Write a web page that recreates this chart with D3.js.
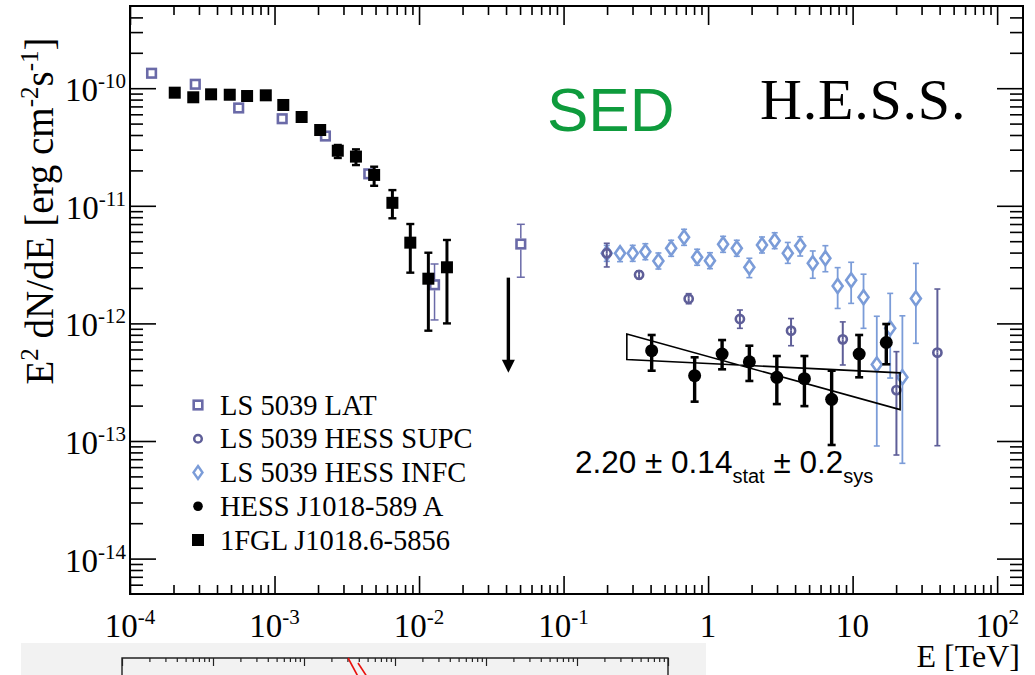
<!DOCTYPE html>
<html><head><meta charset="utf-8">
<script src="https://cdn.jsdelivr.net/npm/d3@7"></script>
<style>
html,body{margin:0;padding:0;background:#fff;}
svg{display:block;}
</style></head><body>
<svg id="chart" width="1035" height="675"></svg>
<script>
// ---- 1FGL J1018.6-5856 (Fermi) ----
const fglE  = [2.04e-4, 2.74e-4, 3.64e-4, 4.9e-4, 6.46e-4, 8.7e-4, 1.15e-3, 1.54e-3, 2.07e-3, 2.74e-3, 3.66e-3, 4.89e-3, 6.54e-3, 8.7e-3, 1.16e-2, 1.56e-2];
const fglF  = [9.16e-11, 8.37e-11, 8.87e-11, 8.80e-11, 8.58e-11, 8.70e-11, 7.20e-11, 5.69e-11, 4.41e-11, 2.94e-11, 2.62e-11, 1.83e-11, 1.06e-11, 4.86e-12, 2.40e-12, 3.00e-12];
const fglLo = [9.16e-11, 8.37e-11, 8.87e-11, 8.80e-11, 8.58e-11, 8.70e-11, 7.20e-11, 5.69e-11, 4.41e-11, 2.55e-11, 2.22e-11, 1.48e-11, 7.83e-12, 2.70e-12, 8.67e-13, 1.00e-12];
const fglHi = [9.16e-11, 8.37e-11, 8.87e-11, 8.80e-11, 8.58e-11, 8.70e-11, 7.20e-11, 5.69e-11, 4.41e-11, 3.29e-11, 3.02e-11, 2.15e-11, 1.36e-11, 7.00e-12, 3.99e-12, 5.12e-12];
// upper limit
const ulE = [4.15e-2];
const ulF = [2.45e-12];

// ---- LS 5039 LAT ----
const latE  = [1.41e-4, 2.83e-4, 5.65e-4, 1.13e-3, 2.25e-3, 4.49e-3, 1.28e-2, 5.06e-2];
const latF  = [1.34e-10, 1.08e-10, 6.79e-11, 5.50e-11, 3.92e-11, 1.87e-11, 2.13e-12, 4.73e-12];
const latLo = [1.34e-10, 1.08e-10, 6.79e-11, 5.50e-11, 3.92e-11, 1.87e-11, 1.07e-12, 2.47e-12];
const latHi = [1.34e-10, 1.08e-10, 6.79e-11, 5.50e-11, 3.92e-11, 1.87e-11, 3.20e-12, 6.96e-12];

// ---- LS 5039 HESS SUPC ----
const supE  = [0.199, 0.333, 0.734, 1.66, 3.75, 8.55, 20.1, 38.6];
const supF  = [3.95e-12, 2.59e-12, 1.62e-12, 1.09e-12, 8.67e-13, 7.32e-13, 2.71e-13, 5.64e-13];
const supLo = [3.02e-12, 2.40e-12, 1.47e-12, 9.08e-13, 6.46e-13, 4.43e-13, 7.60e-14, 9.12e-14];
const supHi = [4.80e-12, 2.80e-12, 1.79e-12, 1.30e-12, 1.10e-12, 1.03e-12, 5.75e-13, 1.96e-12];

// ---- LS 5039 HESS INFC ----
const infE  = [0.199, 0.246, 0.301, 0.368, 0.453, 0.555, 0.682, 0.84, 1.03, 1.27, 1.58, 1.93, 2.36, 2.89, 3.56, 4.34, 5.3, 6.48, 7.88, 9.77, 11.9, 14.7, 18.2, 22.1, 27.4];
const infF  = [3.95e-12, 3.95e-12, 3.95e-12, 4.07e-12, 3.39e-12, 4.35e-12, 5.40e-12, 3.65e-12, 3.41e-12, 4.70e-12, 4.35e-12, 3.00e-12, 4.64e-12, 5.05e-12, 3.95e-12, 4.58e-12, 3.24e-12, 3.58e-12, 2.08e-12, 2.33e-12, 1.67e-12, 4.47e-13, 9.08e-13, 3.48e-13, 1.63e-12];
const infLo = [3.37e-12, 3.35e-12, 3.37e-12, 3.48e-12, 2.90e-12, 3.72e-12, 4.61e-12, 3.12e-12, 2.92e-12, 4.02e-12, 3.72e-12, 2.45e-12, 3.97e-12, 4.32e-12, 3.24e-12, 3.74e-12, 2.42e-12, 2.75e-12, 1.34e-12, 1.48e-12, 9.08e-13, 9.07e-14, 3.43e-13, 6.46e-14, 6.77e-13];
const infHi = [4.61e-12, 4.35e-12, 4.61e-12, 4.76e-12, 3.97e-12, 5.09e-12, 6.31e-12, 4.27e-12, 3.99e-12, 5.50e-12, 5.09e-12, 3.58e-12, 5.43e-12, 5.90e-12, 4.88e-12, 5.46e-12, 4.13e-12, 4.58e-12, 2.98e-12, 3.31e-12, 2.62e-12, 1.15e-12, 1.80e-12, 1.16e-12, 3.24e-12];

// ---- HESS J1018-589 A ----
const hessE  = [0.407, 0.807, 1.25, 1.93, 2.99, 4.64, 7.16, 11.1, 17.1];
const hessF  = [5.86e-13, 3.59e-13, 5.49e-13, 4.72e-13, 3.48e-13, 3.39e-13, 2.26e-13, 5.49e-13, 6.88e-13];
const hessLo = [3.96e-13, 2.16e-13, 4.07e-13, 3.24e-13, 2.06e-13, 1.98e-13, 9.25e-14, 3.48e-13, 4.49e-13];
const hessHi = [7.97e-13, 5.15e-13, 7.22e-13, 6.46e-13, 5.28e-13, 5.28e-13, 3.96e-13, 7.97e-13, 9.88e-13];

// power-law fit: photon index, its statistical error, pivot and flux at pivot, energy range
const fitIndex = [2.20];
const fitIndexErr = [0.14];
const fitSysErr = [0.2];
const fitPivot = [1.63];
const fitPivotFlux = [4.43e-13];
const fitRange = [0.274, 21.3];

// axis ticks
const xMajor = [1e-4, 1e-3, 1e-2, 1e-1, 1, 10, 100];
const xLabels = [["10","-4"], ["10","-3"], ["10","-2"], ["10","-1"], ["1",""], ["10",""], ["10","2"]];
const yMajor = [1e-14, 1e-13, 1e-12, 1e-11, 1e-10];
const yLabels = [["10","-14"], ["10","-13"], ["10","-12"], ["10","-11"], ["10","-10"]];

const legendLabels = ["LS 5039 LAT", "LS 5039 HESS SUPC", "LS 5039 HESS INFC", "HESS J1018-589 A", "1FGL J1018.6-5856"];

// strip of the neighbouring panel below
const stripDecades = [1e-4, 1e-3, 1e-2, 1e-1, 1, 10, 100];
const stripCurveA = [[0.0305, 0.0], [0.0385, 0.41]];
const stripCurveB = [[0.0392, 0.12], [0.0480, 0.41]];

// ------------------------------------------------------------
const SERIF = "'Liberation Serif','Times New Roman',serif";
const SANS = "'Liberation Sans',Arial,sans-serif";
const COL = {lat: '#6a6aa8', sup: '#5e5e98', inf: '#7b9cd8', black: '#000'};

const svg = d3.select('#chart');
const P = {left: 130, right: 1023, top: 6, bottom: 594};

const x = d3.scaleLog().domain([1e-4, 151]).range([P.left, P.right]);
const y = d3.scaleLog().domain([5e-15, 5e-10]).range([P.bottom, P.top]);

function minorTicks(lo, hi) {
  const out = [];
  for (let e = Math.floor(Math.log10(lo)); e <= Math.ceil(Math.log10(hi)); e++)
    for (let k = 2; k <= 9; k++) {
      const v = k * Math.pow(10, e);
      if (v > lo * 1.0001 && v < hi * 0.9999) out.push(v);
    }
  return out;
}
const xMinor = minorTicks(1e-4, 151);
const yMinor = minorTicks(5e-15, 5e-10);

// ---- axes ticks (ROOT style, pointing inward on all four sides) ----
function tickAxis(axisFn, scale, values, size, transform) {
  const g = svg.append('g').attr('transform', transform)
    .call(axisFn(scale).tickValues(values).tickSizeInner(-size).tickSizeOuter(0).tickFormat(''));
  g.select('.domain').remove();
  g.selectAll('line').attr('stroke', '#000').attr('stroke-width', 1.6);
  g.selectAll('text').remove();
  return g;
}
tickAxis(d3.axisBottom, x, xMajor, 18, `translate(0,${P.bottom})`);
tickAxis(d3.axisBottom, x, xMinor, 9, `translate(0,${P.bottom})`);
tickAxis(d3.axisTop, x, xMajor, 19, `translate(0,${P.top})`);
tickAxis(d3.axisTop, x, xMinor, 9, `translate(0,${P.top})`);
tickAxis(d3.axisLeft, y, yMajor, 26, `translate(${P.left},0)`);
tickAxis(d3.axisLeft, y, yMinor, 13, `translate(${P.left},0)`);
tickAxis(d3.axisRight, y, yMajor, 26, `translate(${P.right},0)`);
tickAxis(d3.axisRight, y, yMinor, 13, `translate(${P.right},0)`);

svg.append('rect').attr('x', P.left).attr('y', P.top)
  .attr('width', P.right - P.left).attr('height', P.bottom - P.top)
  .attr('fill', 'none').attr('stroke', '#000').attr('stroke-width', 2);

// ---- tick labels ----
function powLabel(sel, base, exp, supSize, rise) {
  sel.append('tspan').text(base);
  if (exp) sel.append('tspan').attr('font-size', supSize).attr('dy', -rise).text(exp);
}
xMajor.forEach((v, i) => {
  const t = svg.append('text').attr('x', x(v)).attr('y', 637)
    .attr('text-anchor', 'middle').attr('font-family', SERIF).attr('font-size', 33);
  powLabel(t, xLabels[i][0], xLabels[i][1], 21, 13);
});
yMajor.forEach((v, i) => {
  const t = svg.append('text').attr('x', 126).attr('y', y(v) + 13)
    .attr('text-anchor', 'end').attr('font-family', SERIF).attr('font-size', 33);
  powLabel(t, yLabels[i][0], yLabels[i][1], 21, 13);
});

// ---- axis titles ----
svg.append('text').attr('x', 1020).attr('y', 667).attr('text-anchor', 'end')
  .attr('font-family', SERIF).attr('font-size', 32).text('E [TeV]');

const yt = svg.append('text').attr('transform', 'translate(53,211) rotate(-90)')
  .attr('text-anchor', 'middle').attr('font-family', SERIF).attr('font-size', 39);
yt.append('tspan').text('E');
yt.append('tspan').attr('font-size', 25).attr('dy', -15).text('2');
yt.append('tspan').attr('dy', 15).text(' dN/dE [erg cm');
yt.append('tspan').attr('font-size', 25).attr('dy', -15).text('-2');
yt.append('tspan').attr('dy', 15).text('s');
yt.append('tspan').attr('font-size', 25).attr('dy', -15).text('-1');
yt.append('tspan').attr('dy', 15).text(']');

// ---- error bars ----
function errBars(E, F, lo, hi, o) {
  const g = svg.append('g').attr('stroke', o.color).attr('stroke-width', o.width);
  E.forEach((e, i) => {
    const cx = x(e), cy = y(F[i]), top = y(hi[i]), bot = y(lo[i]);
    if (bot - top < 0.5) return;
    const gap = o.gap || 0;
    if (cy - gap > top) g.append('line').attr('x1', cx).attr('x2', cx).attr('y1', top).attr('y2', cy - gap);
    if (cy + gap < bot) g.append('line').attr('x1', cx).attr('x2', cx).attr('y1', cy + gap).attr('y2', bot);
    if (o.cap) {
      const cw = o.capWidth || o.width;
      if (cy - gap > top) g.append('line').attr('stroke-width', cw).attr('x1', cx - o.cap).attr('x2', cx + o.cap).attr('y1', top).attr('y2', top);
      if (cy + gap < bot) g.append('line').attr('stroke-width', cw).attr('x1', cx - o.cap).attr('x2', cx + o.cap).attr('y1', bot).attr('y2', bot);
    }
  });
}

// INFC diamonds
errBars(infE, infF, infLo, infHi, {color: COL.inf, width: 1.8, cap: 3, capWidth: 1.6, gap: 6});
const diamond = (hw, hh) => `M0,${-hh}L${hw},0L0,${hh}L${-hw},0Z`;
svg.append('g').selectAll('path').data(infE).join('path')
  .attr('transform', (d, i) => `translate(${x(d)},${y(infF[i])})`)
  .attr('d', diamond(5, 7)).attr('fill', '#fff')
  .attr('stroke', COL.inf).attr('stroke-width', 2.6);

// SUPC circles
errBars(supE, supF, supLo, supHi, {color: COL.sup, width: 2, cap: 3, capWidth: 1.6});
svg.append('g').selectAll('circle').data(supE).join('circle')
  .attr('cx', d => x(d)).attr('cy', (d, i) => y(supF[i])).attr('r', 4.1)
  .attr('fill', 'none').attr('stroke', COL.sup).attr('stroke-width', 2.6);

// power-law bow tie (index +/- stat error, crossing at the pivot)
(function () {
  const G = fitIndex[0], dG = fitIndexErr[0], E0 = fitPivot[0], F0 = fitPivotFlux[0];
  const f = (E, g) => F0 * Math.pow(E / E0, 2 - g);
  const [a, b] = fitRange;
  const pts = [[a, f(a, G + dG)], [b, f(b, G + dG)], [b, f(b, G - dG)], [a, f(a, G - dG)]];
  svg.append('path')
    .attr('d', d3.line().x(d => x(d[0])).y(d => y(d[1]))(pts) + 'Z')
    .attr('fill', 'none').attr('stroke', '#000').attr('stroke-width', 1.6);
})();

// HESS J1018-589 A
errBars(hessE, hessF, hessLo, hessHi, {color: '#000', width: 3.4, cap: 4, capWidth: 2.6});
svg.append('g').selectAll('circle').data(hessE).join('circle')
  .attr('cx', d => x(d)).attr('cy', (d, i) => y(hessF[i])).attr('r', 6.5).attr('fill', '#000');

// LS 5039 LAT
errBars(latE, latF, latLo, latHi, {color: COL.lat, width: 1.5, cap: 4, capWidth: 1.5, gap: 5.5});
svg.append('g').selectAll('rect').data(latE).join('rect')
  .attr('x', d => x(d) - 4.3).attr('y', (d, i) => y(latF[i]) - 4.3)
  .attr('width', 8.6).attr('height', 8.6).attr('fill', '#fff')
  .attr('stroke', COL.lat).attr('stroke-width', 2.6);

// 1FGL
errBars(fglE, fglF, fglLo, fglHi, {color: '#000', width: 3, cap: 4, capWidth: 2.4});
svg.append('g').selectAll('rect').data(fglE).join('rect')
  .attr('x', d => x(d) - 6).attr('y', (d, i) => y(fglF[i]) - 6)
  .attr('width', 12).attr('height', 12).attr('fill', '#000');

// upper limit arrow
ulE.forEach((e, i) => {
  const cx = x(e), top = y(ulF[i]);
  svg.append('line').attr('x1', cx).attr('x2', cx).attr('y1', top).attr('y2', top + 84)
    .attr('stroke', '#000').attr('stroke-width', 3.4);
  svg.append('path').attr('d', `M${cx - 6.5},${top + 82}L${cx + 6.5},${top + 82}L${cx},${top + 95}Z`).attr('fill', '#000');
});

// ---- texts ----
svg.append('text').attr('x', 547).attr('y', 131).attr('font-family', SANS)
  .attr('font-size', 62).attr('fill', '#0e9b3c').text('SED');
svg.append('text').attr('x', 760).attr('y', 119).attr('font-family', SERIF)
  .attr('font-size', 58).attr('letter-spacing', 0.8).attr('fill', '#000').text('H.E.S.S.');

const ann = svg.append('text').attr('x', 575).attr('y', 473).attr('font-family', SANS).attr('font-size', 31.5);
ann.append('tspan').text(`${fitIndex[0].toFixed(2)} ± ${fitIndexErr[0].toFixed(2)}`);
ann.append('tspan').attr('font-size', 20).attr('dy', 10).text('stat');
ann.append('tspan').attr('dy', -10).text(` ± ${fitSysErr[0]}`);
ann.append('tspan').attr('font-size', 20).attr('dy', 10).text('sys');

// ---- legend ----
const legY = d3.scalePoint().domain(legendLabels).range([405, 540]);
const legX = 198;
const lg = svg.append('g');
legendLabels.forEach((lab, i) => {
  const cy = legY(lab);
  if (i === 0) lg.append('rect').attr('x', legX - 4.3).attr('y', cy - 4.3).attr('width', 8.6).attr('height', 8.6)
    .attr('fill', '#fff').attr('stroke', COL.lat).attr('stroke-width', 2.6);
  if (i === 1) lg.append('circle').attr('cx', legX).attr('cy', cy).attr('r', 3.8)
    .attr('fill', 'none').attr('stroke', COL.sup).attr('stroke-width', 2.5);
  if (i === 2) lg.append('path').attr('transform', `translate(${legX},${cy})`).attr('d', diamond(4.5, 6.5))
    .attr('fill', '#fff').attr('stroke', COL.inf).attr('stroke-width', 2.4);
  if (i === 3) lg.append('circle').attr('cx', legX).attr('cy', cy).attr('r', 4.8).attr('fill', '#000');
  if (i === 4) lg.append('rect').attr('x', legX - 6).attr('y', cy - 6).attr('width', 12).attr('height', 12).attr('fill', '#000');
  lg.append('text').attr('x', 220).attr('y', cy + 9.5).attr('font-family', SERIF).attr('font-size', 28.5).text(lab);
});

// ---- neighbouring panel strip at the bottom edge ----
const sx = d3.scaleLog().domain([1e-4, 1e2]).range([122, 668]);
const sy = d3.scaleLinear().domain([0, 1]).range([658, 700]);
svg.append('rect').attr('x', 21).attr('y', 643).attr('width', 685).attr('height', 32).attr('fill', '#f2f2f2');
const sMinor = minorTicks(1e-4, 1e2);
[[stripDecades, 8], [sMinor, 4]].forEach(([vals, len]) => {
  const g = svg.append('g').attr('transform', 'translate(0,658)')
    .call(d3.axisTop(sx).tickValues(vals).tickSizeInner(-len).tickSizeOuter(0).tickFormat(''));
  g.select('.domain').remove();
  g.selectAll('line').attr('stroke', '#222').attr('stroke-width', 1.2);
});
svg.append('path').attr('d', `M${sx(1e-4)},675V658H${sx(1e2)}V675`)
  .attr('fill', 'none').attr('stroke', '#222').attr('stroke-width', 1.4);
[stripCurveA, stripCurveB].forEach(c => {
  svg.append('path').attr('d', d3.line().x(d => sx(d[0])).y(d => sy(d[1]))(c))
    .attr('fill', 'none').attr('stroke', '#e8100c').attr('stroke-width', 1.6);
});
</script>
</body></html>
